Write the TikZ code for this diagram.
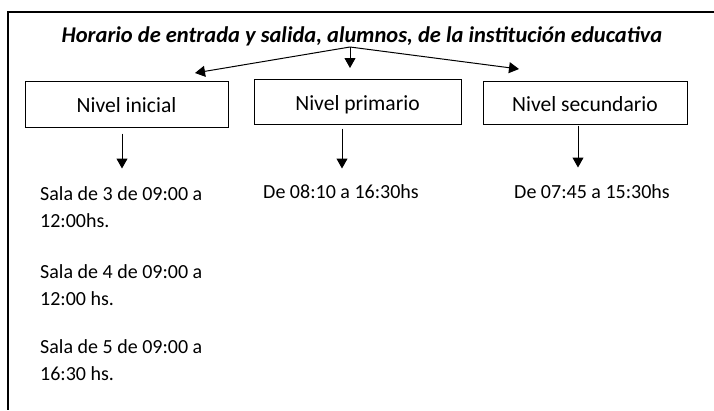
\documentclass[tikz,border=0pt]{standalone}
\usepackage{fontspec}
\setmainfont{Carlito}
\usetikzlibrary{arrows.meta}

\tikzset{
    nivelbox/.style={draw, line width=1pt, inner sep=0pt,
        text height=17pt, text depth=0pt,
        font=\fontsize{21.6}{26}\selectfont},
    flecha/.style={line width=1pt, -{Triangle[length=10pt,width=11pt]}},
    horario/.style={anchor=base west, align=left, inner sep=0pt,
        font=\fontsize{20}{27}\selectfont},
}

\begin{document}
\begin{tikzpicture}[x=1pt, y=-1pt]
    \useasboundingbox (0,0) rectangle (714,410);
    \draw[line width=1.5pt] (714,12) -- (8,12) -- (8,410);

    \node (titulo) at (362,36)
        {\fontsize{22.5}{27}\selectfont\bfseries\itshape Horario de entrada y salida, alumnos, de la institución educativa};

    \node[nivelbox, minimum width=203pt, minimum height=46pt] (inicial) at (126.5,104) {Nivel inicial};
    \node[nivelbox, minimum width=207pt, minimum height=45pt] (primario) at (357.5,101.5) {Nivel primario};
    \node[nivelbox, minimum width=204pt, minimum height=43pt] (secundario) at (585,102.5) {Nivel secundario};

    % ramas del titulo
    \coordinate (rama) at (350,47);
    \coordinate (fin1) at (195,73);
    \coordinate (fin2) at (350,68);
    \coordinate (fin3) at (519,69);
    \foreach \f in {fin1, fin2, fin3} {
        \draw[flecha] (rama) -- (\f);
    }

    \foreach \n/\dx/\gap/\len in {inicial/-4.5/6/35, primario/-15.5/4/40, secundario/-7/1/42} {
        \draw[flecha] ([xshift=\dx pt, yshift=-\gap pt]\n.south) -- ++(0,\len);
    }

    \node[horario] (sala3) at (40,227) {Sala de 3 de 09:00 a\\12:00hs.};
    \node[horario] (sala4) at (40,305) {Sala de 4 de 09:00 a\\12:00 hs.};
    \node[horario] (sala5) at (40,380) {Sala de 5 de 09:00 a\\16:30 hs.};
    \node[horario] (hprim) at (263,198) {De 08:10 a 16:30hs};
    \node[horario] (hsec) at (514,198) {De 07:45 a 15:30hs};
\end{tikzpicture}
\end{document}
